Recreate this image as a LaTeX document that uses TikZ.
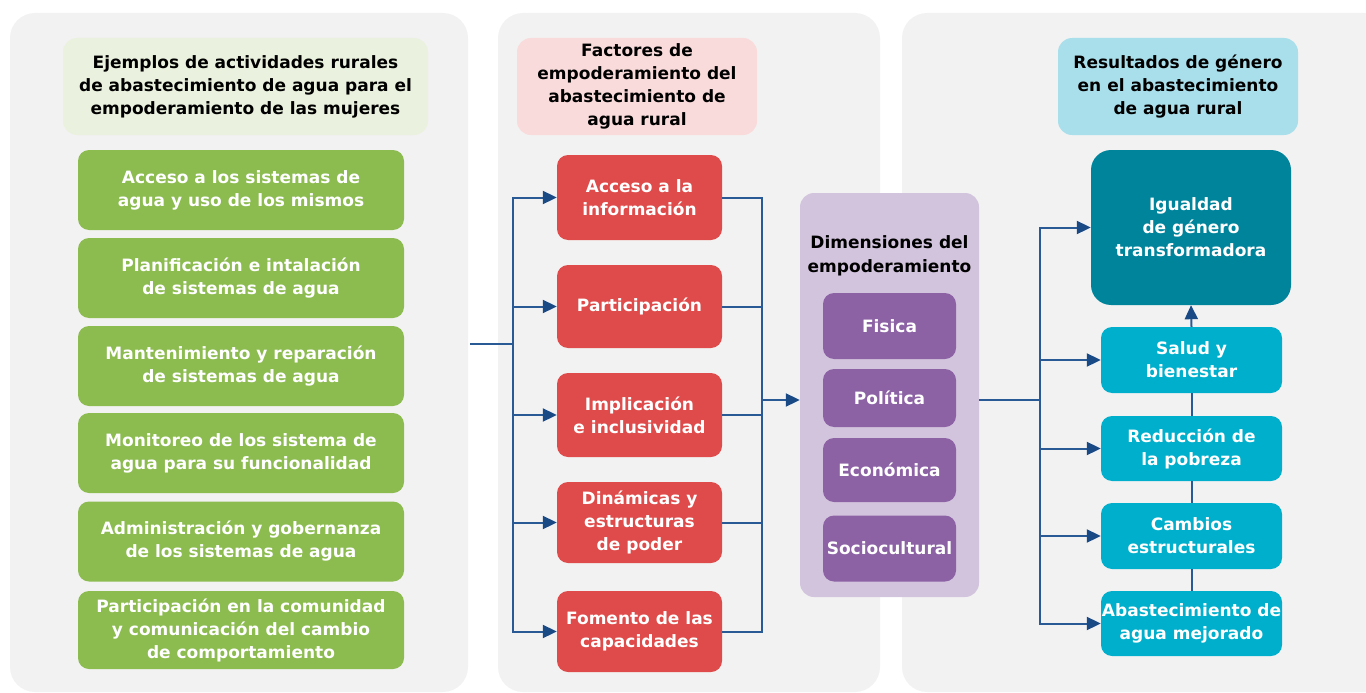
\documentclass[tikz,border=0pt]{standalone}
\usepackage{fontspec}
\setmainfont{DejaVu Sans}
\usetikzlibrary{arrows.meta}
\definecolor{panelbg}{HTML}{F2F2F2}
\definecolor{gtitle}{HTML}{EAF1DE}
\definecolor{gbox}{HTML}{8CBB50}
\definecolor{ptitle}{HTML}{FADBDB}
\definecolor{rbox}{HTML}{DE4B4A}
\definecolor{vpanel}{HTML}{D3C4DE}
\definecolor{vbox}{HTML}{8C62A5}
\definecolor{btitle}{HTML}{A9DFEB}
\definecolor{tealbox}{HTML}{00849C}
\definecolor{cbox}{HTML}{00AFCB}
\definecolor{arrc}{HTML}{2A5A95}
\definecolor{tipc}{HTML}{1A4A86}
\tikzset{
  txt/.style={font=\fontsize{17}{23}\selectfont\bfseries, align=center, inner sep=0pt},
  titlebox/.style={txt, text=black, rounded corners=14pt, minimum height=97pt},
  colbox/.style={txt, text=white, rounded corners=11pt},
  greenbox/.style={colbox, fill=gbox, minimum width=326pt, minimum height=80pt},
  redbox/.style={colbox, fill=rbox, minimum width=165pt},
  purplebox/.style={colbox, fill=vbox, minimum width=133pt},
  cyanbox/.style={colbox, fill=cbox, minimum width=181pt},
  conn/.style={draw=arrc, line width=2pt},
  arr/.style={conn, -{Triangle[length=14pt,width=13pt,color=tipc]}}
}
\begin{document}
\begin{tikzpicture}[x=1pt,y=-1pt]
\useasboundingbox (0,0) rectangle (1366,693);
\clip (0,0) rectangle (1366,693);
% panels
\fill[panelbg, rounded corners=25pt] (10,13) rectangle (468,692);
\fill[panelbg, rounded corners=25pt] (498,13) rectangle (880,692);
\fill[panelbg, rounded corners=25pt] (902,13) rectangle (1390,692);
% left column
\node[titlebox, fill=gtitle, minimum width=365pt] (t1) at (245.5,86.5) {Ejemplos de actividades rurales\\de abastecimiento de agua para el\\empoderamiento de las mujeres};
\node[greenbox] (g1) at (241,190) {Acceso a los sistemas de\\agua y uso de los mismos};
\node[greenbox] (g2) at (241,278) {Planificación e intalación\\de sistemas de agua};
\node[greenbox] (g3) at (241,366) {Mantenimiento y reparación\\de sistemas de agua};
\node[greenbox] (g4) at (241,453) {Monitoreo de los sistema de\\agua para su funcionalidad};
\node[greenbox] (g5) at (241,541.5) {Administración y gobernanza\\de los sistemas de agua};
\node[greenbox, minimum height=78pt] (g6) at (241,630) {Participación en la comunidad\\y comunicación del cambio\\de comportamiento};
% middle column
\node[titlebox, fill=ptitle, minimum width=240pt] (t2) at (637,86.5) {Factores de\\empoderamiento del\\abastecimiento de\\agua rural};
\node[redbox, minimum height=85pt] (r1) at (639.5,197.5) {Acceso a la\\información};
\node[redbox, minimum height=83pt] (r2) at (639.5,306.5) {Participación};
\node[redbox, minimum height=84pt] (r3) at (639.5,415) {Implicación\\e inclusividad};
\node[redbox, minimum height=81pt] (r4) at (639.5,522.5) {Dinámicas y\\estructuras\\de poder};
\node[redbox, minimum height=81pt] (r5) at (639.5,631.5) {Fomento de las\\capacidades};
% purple panel
\node[fill=vpanel, rounded corners=14pt, minimum width=179pt, minimum height=404pt, inner sep=0pt] (pp) at (889.5,395) {};
\node[txt, text=black, font=\fontsize{17}{24}\selectfont\bfseries] (pt) at (889.5,256) {Dimensiones del\\empoderamiento};
\node[purplebox, minimum height=66pt] (v1) at (889.5,326) {Fisica};
\node[purplebox, minimum height=58pt] (v2) at (889.5,398) {Política};
\node[purplebox, minimum height=64pt] (v3) at (889.5,470) {Económica};
\node[purplebox, minimum height=66pt] (v4) at (889.5,548.5) {Sociocultural};
% right column
\node[titlebox, fill=btitle, minimum width=240pt] (t3) at (1178,86.5) {Resultados de género\\en el abastecimiento\\de agua rural};
\node[colbox, fill=tealbox, rounded corners=20pt, minimum width=200pt, minimum height=155pt] (ig) at (1191,227.5) {Igualdad\\de género\\transformadora};
\node[cyanbox, minimum height=66pt] (c1) at (1191.5,360) {Salud y\\bienestar};
\node[cyanbox, minimum height=65pt] (c2) at (1191.5,448.5) {Reducción de\\la pobreza};
\node[cyanbox, minimum height=66pt] (c3) at (1191.5,536) {Cambios\\estructurales};
\node[cyanbox, minimum height=65pt] (c4) at (1191.5,623.5) {Abastecimiento de\\agua mejorado};
% connectors left
\coordinate (ls) at (470,344);
\coordinate (lb) at (513,344);
\draw[conn] (ls) -- (lb);
\foreach \r in {r1,r2,r3,r4,r5} {\draw[arr] (lb) |- (\r.west);}
% right bus of red boxes
\coordinate (rb) at (762,400);
\foreach \r in {r1,r2,r3,r4,r5} {\draw[conn] (\r.east) -| (rb);}
\draw[arr] (rb) -- (rb -| pp.west);
% to results
\coordinate (cb) at (1040,400);
\draw[conn] (cb -| pp.east) -- (cb);
\draw[arr] (cb) |- (ig.west);
\foreach \c in {c1,c2,c3,c4} {\draw[arr] (cb) |- (\c.west);}
\draw[arr] (c1.north) -- (ig.south);
\draw[conn] (c2.north) -- (c1.south);
\draw[conn] (c3.north) -- (c2.south);
\draw[conn] (c4.north) -- (c3.south);
\end{tikzpicture}
\end{document}
